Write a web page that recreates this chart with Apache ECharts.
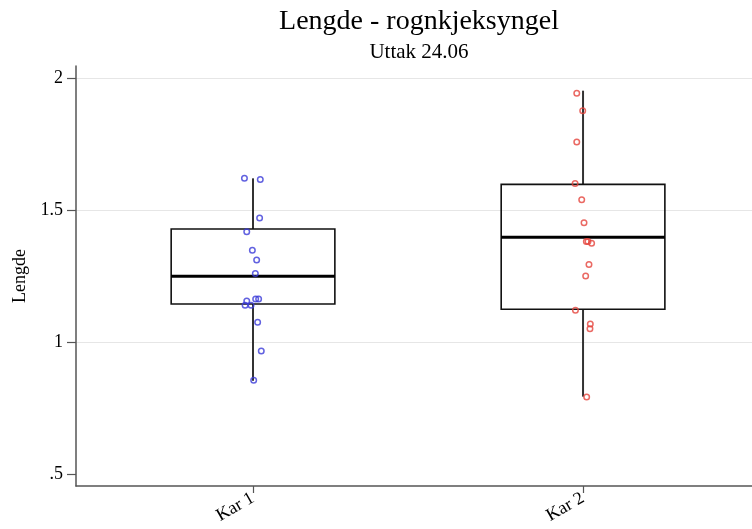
<!DOCTYPE html>
<html>
<head>
<meta charset="utf-8">
<script src="https://cdn.jsdelivr.net/npm/echarts@6/dist/echarts.min.js"></script>
<style>
html,body{margin:0;padding:0;background:#fff;}
#chart{width:752px;height:529px;}
</style>
</head>
<body>
<div id="chart"></div>
<script>
// ---- data ----
const categories = ['Kar 1', 'Kar 2'];
const categoryPos = [1, 2];
const yTickValues = [0.5, 1, 1.5, 2];
const yGridValues = [1, 1.5, 2];
// box stats: [lowerWhisker, Q1, median, Q3, upperWhisker]
const boxKar1 = [0.853, 1.144, 1.249, 1.428, 1.620];
const boxKar2 = [0.793, 1.124, 1.397, 1.597, 1.952];
// individual observations (x = jittered position, y = Lengde)
const kar1X = [0.974, 1.022, 1.020, 0.981, 0.998, 1.011, 1.007, 0.981, 1.008, 1.017, 0.976, 0.994, 1.014, 1.025, 1.002];
const kar1Y = [1.620, 1.616, 1.470, 1.418, 1.348, 1.311, 1.259, 1.155, 1.163, 1.163, 1.139, 1.139, 1.075, 0.966, 0.855];
const kar2X = [1.981, 1.999, 1.981, 1.976, 1.996, 2.003, 2.010, 2.015, 2.026, 2.018, 2.008, 1.977, 2.022, 2.021, 2.011];
const kar2Y = [1.942, 1.876, 1.758, 1.600, 1.539, 1.452, 1.381, 1.381, 1.374, 1.294, 1.250, 1.120, 1.068, 1.050, 0.792];

const boxes = [[categoryPos[0]].concat(boxKar1), [categoryPos[1]].concat(boxKar2)];
const pts1 = kar1X.map((x, i) => [x, kar1Y[i]]);
const pts2 = kar2X.map((x, i) => [x, kar2Y[i]]);

const FONT = '"Liberation Serif", "DejaVu Serif", serif';
const chart = echarts.init(document.getElementById('chart'), null, {renderer: 'canvas'});
const HALF = 0.248;

function renderBox(params, api) {
  const x = api.value(0);
  const lo = api.value(1), q1 = api.value(2), med = api.value(3), q3 = api.value(4), hi = api.value(5);
  const tl = api.coord([x - HALF, q3]);
  const br = api.coord([x + HALF, q1]);
  const cLo = api.coord([x, lo]), cQ1 = api.coord([x, q1]), cQ3 = api.coord([x, q3]), cHi = api.coord([x, hi]);
  const mL = api.coord([x - HALF, med]), mR = api.coord([x + HALF, med]);
  return {
    type: 'group',
    children: [
      {type: 'line', shape: {x1: cHi[0], y1: cHi[1], x2: cQ3[0], y2: cQ3[1]}, style: {stroke: '#333', lineWidth: 2}},
      {type: 'line', shape: {x1: cQ1[0], y1: cQ1[1], x2: cLo[0], y2: cLo[1]}, style: {stroke: '#333', lineWidth: 2}},
      {type: 'rect', shape: {x: tl[0], y: tl[1], width: br[0] - tl[0], height: br[1] - tl[1]}, style: {stroke: '#111', lineWidth: 1.6, fill: 'rgba(0,0,0,0)'}},
      {type: 'line', shape: {x1: mL[0], y1: mL[1], x2: mR[0], y2: mR[1]}, style: {stroke: '#000', lineWidth: 3}}
    ]
  };
}

const option = {
  backgroundColor: '#fff',
  animation: false,
  title: [
    {text: 'Lengde - rognkjeksyngel', left: 414, top: 3, textAlign: 'center',
     textStyle: {fontFamily: FONT, fontSize: 28, fontWeight: 'normal', color: '#000'}},
    {text: 'Uttak 24.06', left: 414, top: 37, textAlign: 'center',
     textStyle: {fontFamily: FONT, fontSize: 21, fontWeight: 'normal', color: '#000'}}
  ],
  grid: {left: 76, right: 0, top: 66, bottom: 43, containLabel: false},
  xAxis: {
    type: 'value', min: 0.4636, max: 2.512,
    axisLine: {show: true, lineStyle: {color: '#555', width: 1.5}},
    axisTick: {show: true, length: 7, customValues: categoryPos, lineStyle: {color: '#555', width: 1.2}},
    axisLabel: {show: true, customValues: categoryPos, rotate: 30, margin: 11,
      formatter: v => categories[Math.round(v) - 1] || '',
      fontFamily: FONT, fontSize: 18, color: '#000'},
    splitLine: {show: false}
  },
  yAxis: [{
    type: 'value', min: 0.4545, max: 2.0455,
    name: 'Lengde', nameLocation: 'middle', nameGap: 43,
    nameTextStyle: {fontFamily: FONT, fontSize: 18, color: '#000'},
    axisLine: {show: true, lineStyle: {color: '#555', width: 1.5}},
    axisTick: {show: true, length: 9, customValues: yTickValues, lineStyle: {color: '#555', width: 1.2}},
    axisLabel: {show: true, customValues: yTickValues, margin: 13,
      formatter: v => (v === 0.5 ? '.5' : String(v)),
      fontFamily: FONT, fontSize: 18, color: '#000'},
    splitLine: {show: false}
  }, {
    type: 'value', min: 0.4545, max: 2.0455, position: 'left',
    axisLine: {show: false}, axisLabel: {show: false},
    axisTick: {show: false, customValues: yGridValues},
    splitLine: {show: true, lineStyle: {color: '#e6e6e6', width: 1.2}}
  }],
  series: [
    {type: 'custom', renderItem: renderBox, data: boxes, yAxisIndex: 0, z: 2,
     encode: {x: 0, y: [1, 2, 3, 4, 5]}},
    {type: 'scatter', data: pts1, yAxisIndex: 0, symbol: 'circle', symbolSize: 5.5, z: 5,
     itemStyle: {color: 'rgba(255,255,255,0)', borderColor: '#3b3bd8', borderWidth: 1.5}},
    {type: 'scatter', data: pts2, yAxisIndex: 0, symbol: 'circle', symbolSize: 5.5, z: 5,
     itemStyle: {color: 'rgba(255,255,255,0)', borderColor: '#e5433c', borderWidth: 1.5}}
  ]
};
chart.setOption(option);
</script>
</body>
</html>
